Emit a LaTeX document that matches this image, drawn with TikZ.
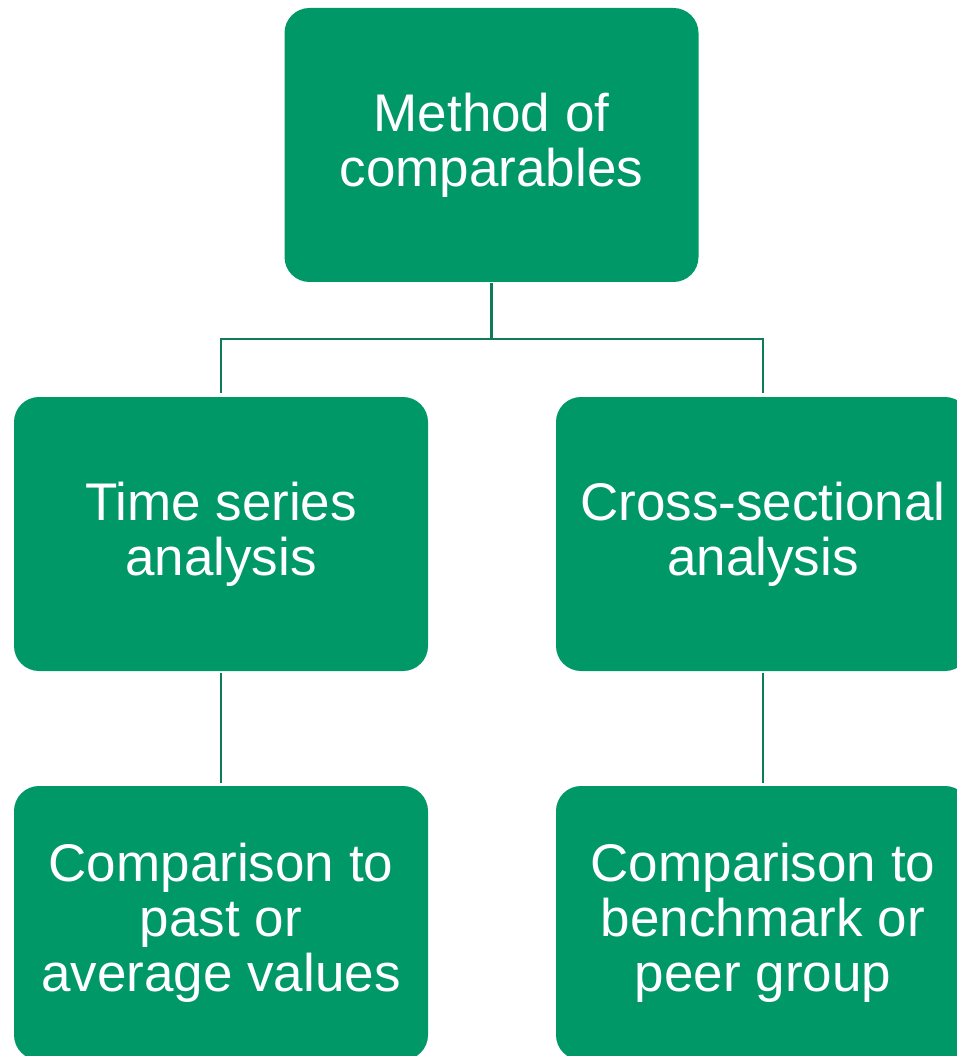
\documentclass[tikz,border=0pt]{standalone}
\usepackage{fontspec}
\setmainfont{Liberation Sans}
\definecolor{boxgreen}{RGB}{0,152,102}
\definecolor{linkgreen}{RGB}{14,124,86}
\begin{document}
\begin{tikzpicture}[x=1pt,y=-1pt,
  box/.style={fill=boxgreen, draw=none, rounded corners=25pt,
    minimum width=414pt, minimum height=274pt, inner sep=0pt,
    text=white, align=center, font=\fontsize{53}{55}\selectfont},
  conn/.style={draw=linkgreen, line width=2.2pt}]
  \useasboundingbox (0,0) rectangle (957,1056);
  \clip (0,0) rectangle (957,1056);

  \node[box] (top) at (491.5,145) {Method of\\comparables};
  \node[box] (tsa) at (221,534) {Time series\\analysis};
  \node[box] (csa) at (763,534) {Cross-sectional\\analysis};
  \node[box] (past) at (221,923) {Comparison to\\past or\\average values};
  \node[box] (peer) at (763,923) {Comparison to\\benchmark or\\peer group};

  \coordinate (j) at (491.5,339);
  \draw[conn, shorten <=1pt] (top.south) -- (j);
  \draw[conn, shorten <=4pt, shorten >=4pt]
    (tsa.north) -- (tsa.north |- j) -- (csa.north |- j) -- (csa.north);
  \draw[conn, shorten <=2pt, shorten >=3pt] (tsa.south) -- (past.north);
  \draw[conn, shorten <=2pt, shorten >=3pt] (csa.south) -- (peer.north);
\end{tikzpicture}
\end{document}
